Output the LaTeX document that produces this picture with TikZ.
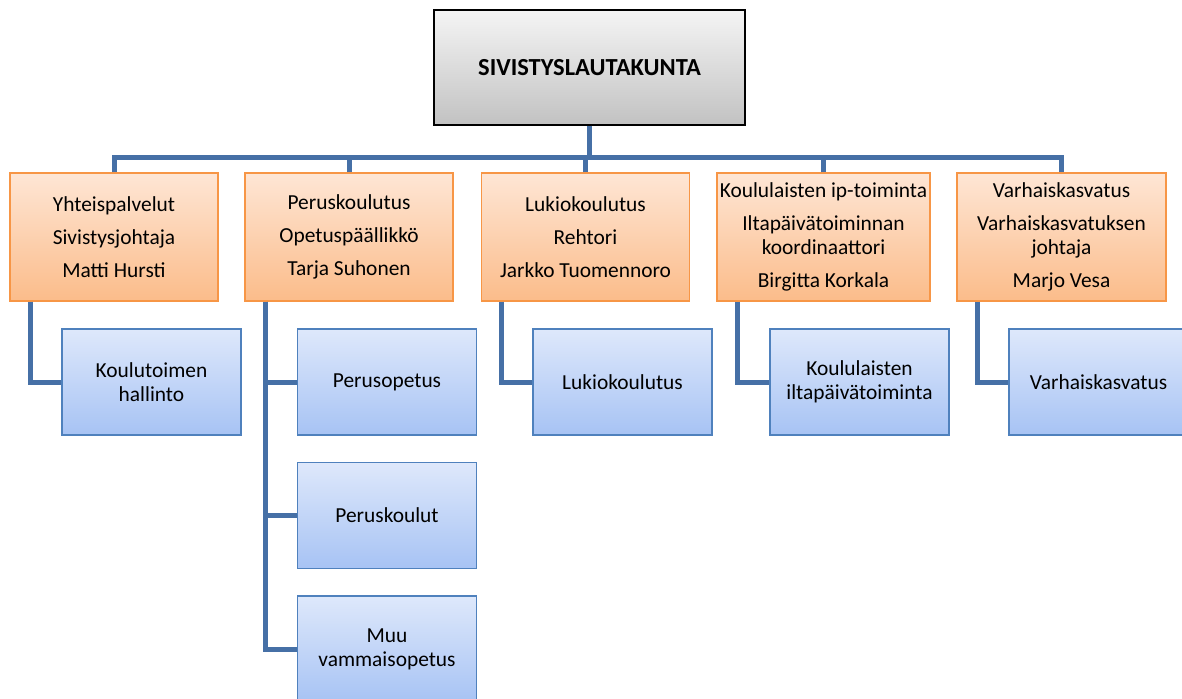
\documentclass[tikz,border=0pt]{standalone}
\usepackage{fontspec}
\setmainfont{Carlito}
\begin{document}
\begin{tikzpicture}[x=1pt,y=-1pt,
  topbox/.style={draw=black, line width=1.2pt, top color=gray!8, bottom color=gray!48,
    minimum width=311pt, minimum height=115pt, inner sep=0pt,
    font=\fontsize{24.5}{28}\selectfont\bfseries},
  orangebox/.style={draw=orangeB, line width=1.3pt, top color=orangeT, bottom color=orangeBot,
    minimum width=208pt, minimum height=128pt, inner sep=0pt, align=center,
    font=\fontsize{21.4}{24}\selectfont},
  bluebox/.style={draw=blueB, line width=1.3pt, top color=blueT, bottom color=blueBot,
    minimum width=179pt, minimum height=106pt, inner sep=0pt, align=center,
    font=\fontsize{21.4}{24}\selectfont},
  conn/.style={draw=connC, line width=5pt, line join=miter}
]
\definecolor{orangeB}{HTML}{F79646}
\definecolor{orangeT}{HTML}{FEE6D5}
\definecolor{orangeBot}{HTML}{FBBC8A}
\definecolor{blueB}{HTML}{4F81BD}
\definecolor{blueT}{HTML}{DEE8FB}
\definecolor{blueBot}{HTML}{A7C3F4}
\definecolor{connC}{HTML}{4670A6}
\useasboundingbox (0,0) rectangle (1182,698);
\clip (0,0) rectangle (1182,698);

\node[topbox] (top) at (589.5,67.5) {SIVISTYSLAUTAKUNTA};

\node[orangebox] (o1) at (114,237) {Yhteispalvelut\\[9pt]Sivistysjohtaja\\[9pt]Matti Hursti};
\node[orangebox] (o2) at (349,237) {Peruskoulutus\\[9pt]Opetuspäällikkö\\[9pt]Tarja Suhonen};
\node[orangebox] (o3) at (585.5,237) {Lukiokoulutus\\[9pt]Rehtori\\[9pt]Jarkko Tuomennoro};
\node[orangebox, minimum width=213pt] (o4) at (823.5,237) {Koululaisten ip-toiminta\\[9pt]Iltapäivätoiminnan\\koordinaattori\\[9pt]Birgitta Korkala};
\node[orangebox, minimum width=209pt] (o5) at (1061.5,237) {Varhaiskasvatus\\[9pt]Varhaiskasvatuksen\\johtaja\\[9pt]Marjo Vesa};

\node[bluebox] (b1) at (151.5,382) {Koulutoimen\\hallinto};
\node[bluebox] (b2a) at (387,382) {Perusopetus};
\node[bluebox] (b2b) at (387,515.5) {Peruskoulut};
\node[bluebox] (b2c) at (387,649) {Muu\\vammaisopetus};
\node[bluebox] (b3) at (622.5,382) {Lukiokoulutus};
\node[bluebox] (b4) at (859.5,382) {Koululaisten\\iltapäivätoiminta};
\node[bluebox] (b5) at (1098.5,382) {Varhaiskasvatus};

\coordinate (bus) at (589.5,157);
\draw[conn] (top.south) -- (bus);
\draw[conn] (o1.north) |- (bus) -| (o5.north);
\draw[conn] (o2.north) |- (bus);
\draw[conn] (o3.north) |- (bus);
\draw[conn] (o4.north) |- (bus);

\draw[conn] ([xshift=21pt]o1.south west) |- (b1.west);
\draw[conn] ([xshift=21pt]o2.south west) |- (b2c.west);
\draw[conn] ([xshift=21pt]o2.south west) |- (b2a.west);
\draw[conn] ([xshift=21pt]o2.south west) |- (b2b.west);
\draw[conn] ([xshift=21pt]o3.south west) |- (b3.west);
\draw[conn] ([xshift=21pt]o4.south west) |- (b4.west);
\draw[conn] ([xshift=21pt]o5.south west) |- (b5.west);
\end{tikzpicture}
\end{document}
